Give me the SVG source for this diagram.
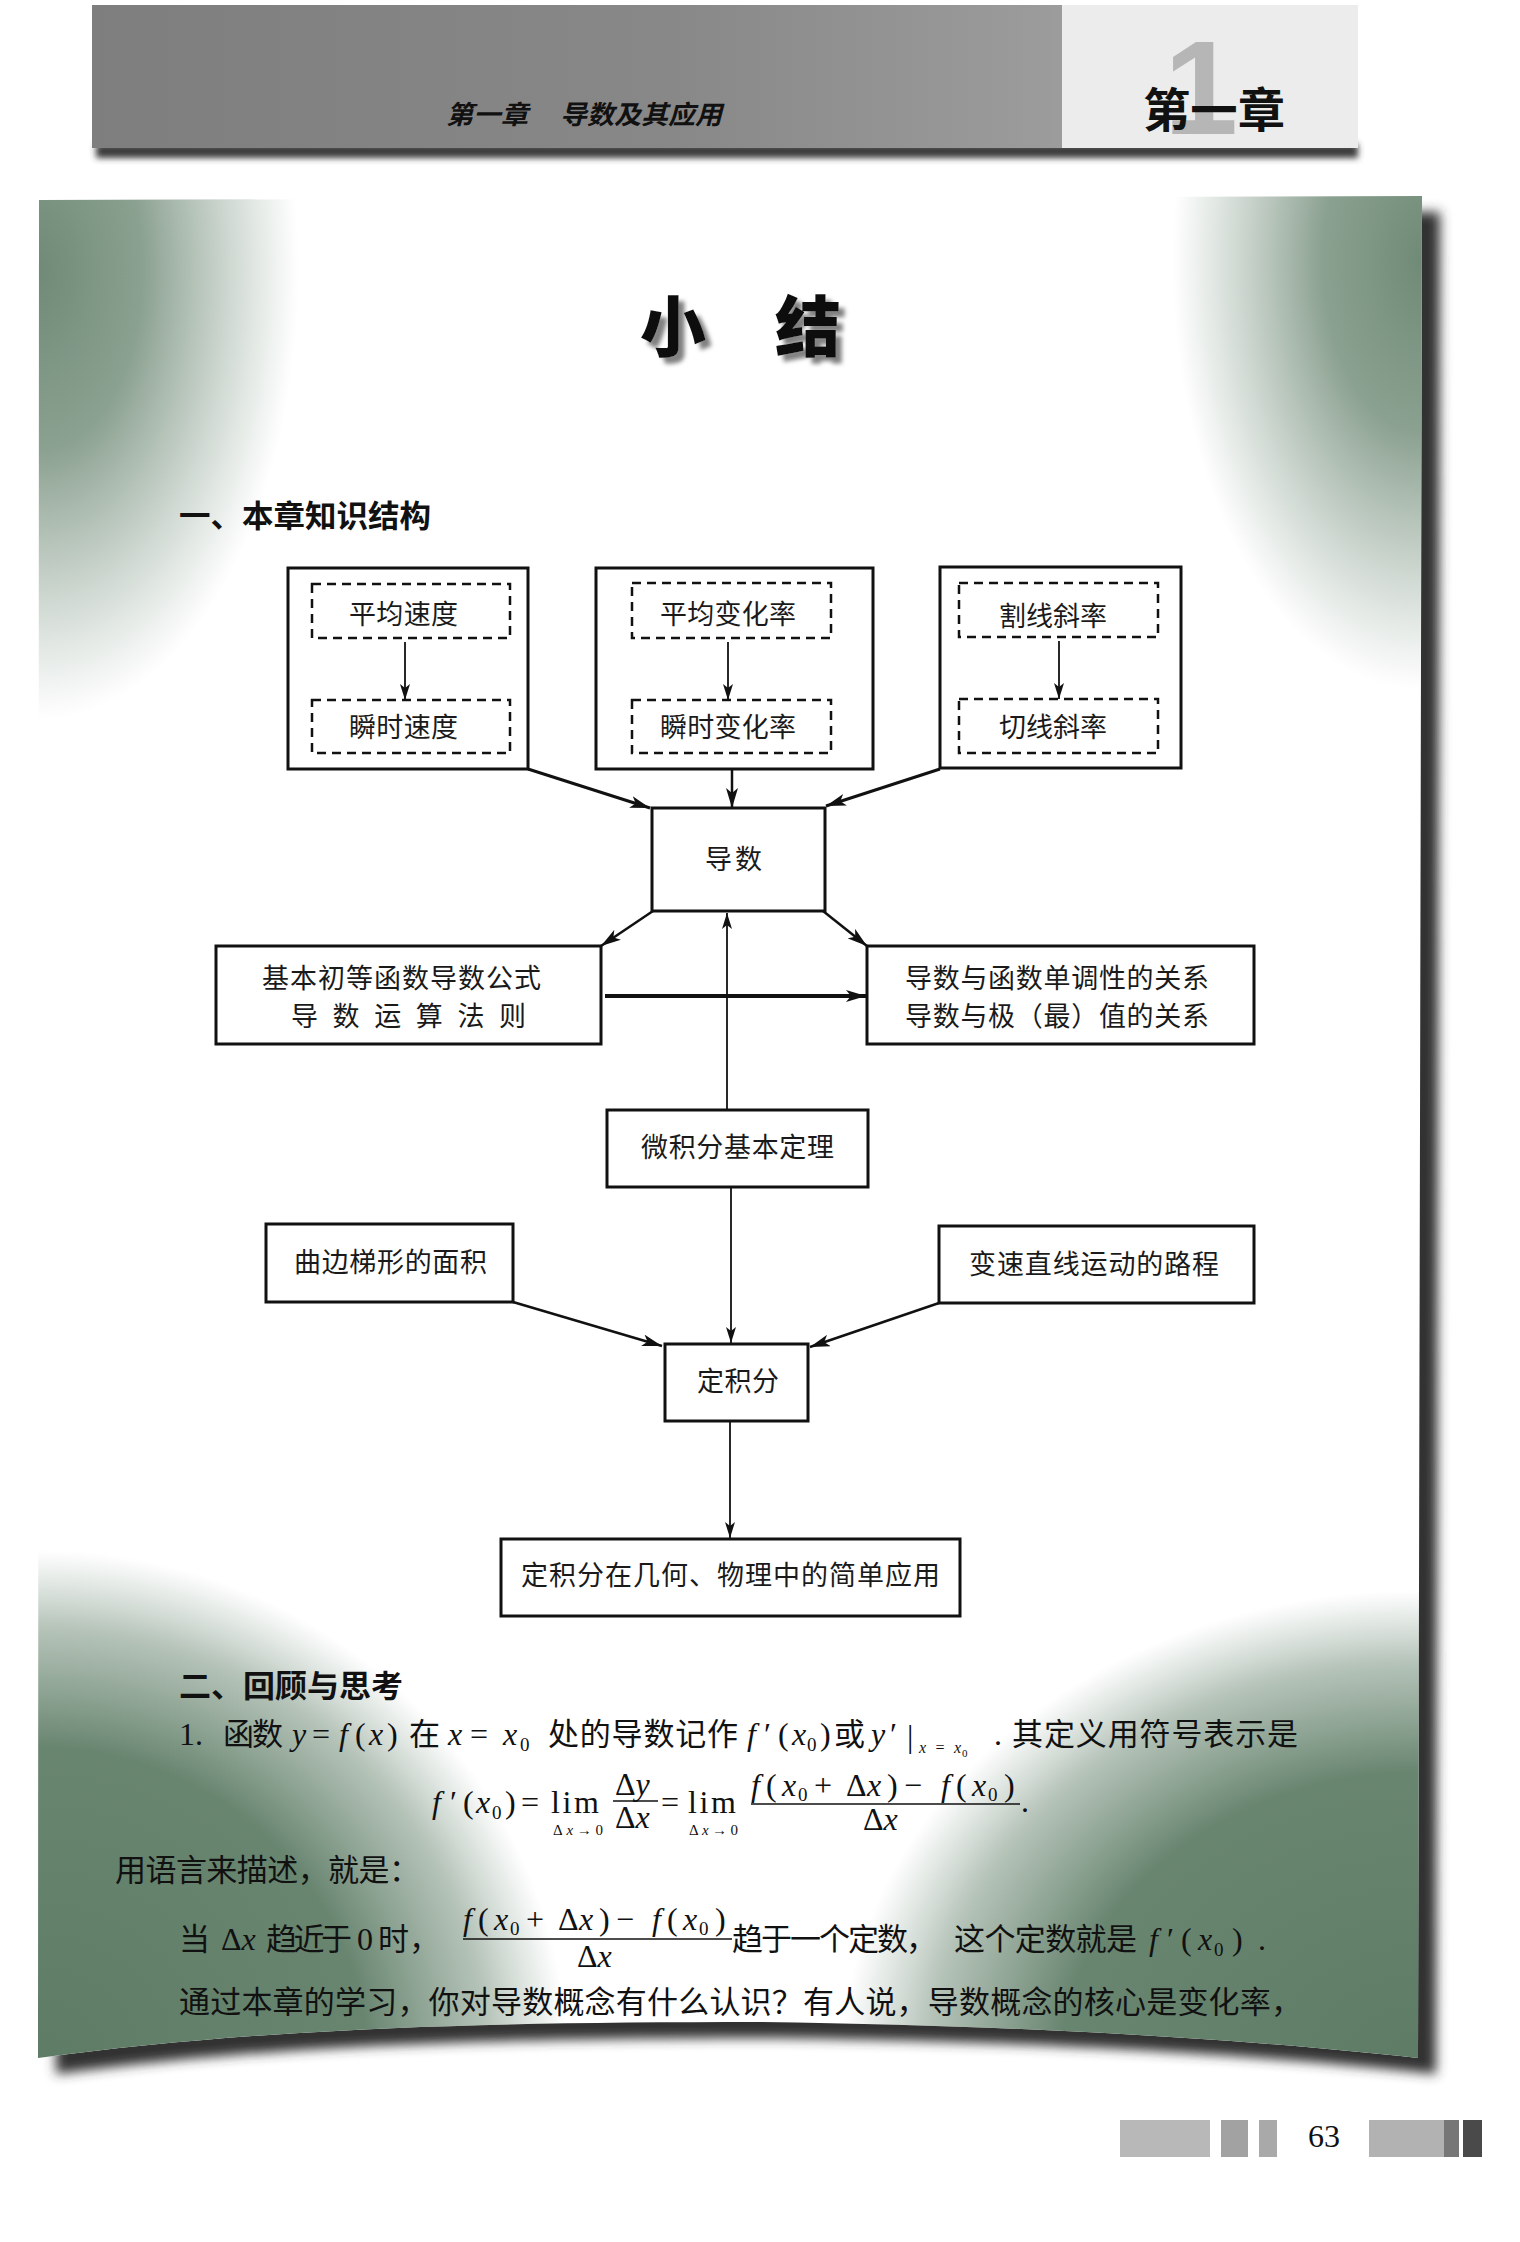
<svg xmlns="http://www.w3.org/2000/svg" width="1520" height="2242" viewBox="0 0 1520 2242">
<style>
.box{fill:#fff;stroke:#111;stroke-width:3}
.dash{fill:none;stroke:#111;stroke-width:2.5;stroke-dasharray:9 6}
.lbl{font-family:"Noto Sans CJK SC","Noto Sans CJK JP",sans-serif;font-size:27px;fill:#1a1a1a}
.cn{font-family:"Noto Sans CJK SC","Noto Sans CJK JP",sans-serif;font-size:31px;fill:#111}
.m{font-family:"Liberation Serif","DejaVu Serif",serif;font-size:32px;fill:#111}
.mi{font-style:italic}
.sub{font-size:19px}
.lim{font-size:15px}
.hd{font-family:"Noto Sans CJK SC","Noto Sans CJK JP",sans-serif;font-weight:700;fill:#111}
.con{fill:none;stroke:#111}
</style>
<defs>
<marker id="a" viewBox="0 0 20 12" refX="20" refY="6" markerWidth="20" markerHeight="12" markerUnits="userSpaceOnUse" orient="auto"><path d="M0,0 L20,6 L0,12 L5,6 z" fill="#111"/></marker>
<marker id="as" viewBox="0 0 16 10" refX="16" refY="5" markerWidth="16" markerHeight="10" markerUnits="userSpaceOnUse" orient="auto"><path d="M0,0 L16,5 L0,10 L4,5 z" fill="#111"/></marker>
<clipPath id="pageClip"><path d="M39,200 L1422,196 L1418,2058 C1250,2040 1050,2026 760,2022 C450,2022 250,2030 38,2058 Z"/></clipPath>
<radialGradient id="rgG"><stop offset="0" stop-color="#63806b" stop-opacity="0.92"/><stop offset="0.4" stop-color="#6a8671" stop-opacity="0.78"/><stop offset="1" stop-color="#7a9482" stop-opacity="0"/></radialGradient>
<radialGradient id="rgB"><stop offset="0" stop-color="#5e7b66" stop-opacity="1"/><stop offset="0.62" stop-color="#62806a" stop-opacity="0.96"/><stop offset="0.85" stop-color="#6c8873" stop-opacity="0.5"/><stop offset="1" stop-color="#7a9482" stop-opacity="0"/></radialGradient>
<linearGradient id="band" x1="0" y1="0" x2="1" y2="0"><stop offset="0" stop-color="#7e7e7e"/><stop offset="0.6" stop-color="#888"/><stop offset="1" stop-color="#9c9c9c"/></linearGradient>
<filter id="blur6" x="-5%" y="-5%" width="110%" height="110%"><feGaussianBlur stdDeviation="6"/></filter>
<filter id="blur3" x="-5%" y="-50%" width="110%" height="200%"><feGaussianBlur stdDeviation="3"/></filter>
<filter id="tshadow" x="-20%" y="-20%" width="150%" height="150%"><feDropShadow dx="6" dy="6" stdDeviation="2" flood-color="#808080" flood-opacity="1"/></filter>
</defs>
<rect width="1520" height="2242" fill="#fff"/>

<!-- header band -->
<g id="header">
<rect x="96" y="144" width="1262" height="14" fill="#3a3a3a" filter="url(#blur3)"/>
<rect x="92" y="5" width="970" height="143" fill="url(#band)"/>
<rect x="1062" y="5" width="296" height="143" fill="#ececec"/>
<text class="hd" x="446" y="124" font-size="26" font-style="italic" textLength="82" lengthAdjust="spacingAndGlyphs">第一章</text>
<text class="hd" x="560" y="124" font-size="26" font-style="italic" textLength="162" lengthAdjust="spacingAndGlyphs">导数及其应用</text>
<text x="1164" y="134" font-family="Liberation Sans, Arial, sans-serif" font-weight="700" font-size="133" fill="#a9a9a9" opacity="0.8">1</text>
<text class="hd" x="1143" y="127" font-size="47" font-weight="900" fill="#222" textLength="142" lengthAdjust="spacingAndGlyphs">第一章</text>
</g>

<!-- page sheet -->
<g id="page">
<path d="M57,216 L1440,212 L1436,2074 C1268,2056 1068,2042 778,2038 C468,2038 268,2046 56,2074 Z" fill="#333" filter="url(#blur6)"/>
<path d="M39,200 L1422,196 L1418,2058 C1250,2040 1050,2026 760,2022 C450,2022 250,2030 38,2058 Z" fill="#fff"/>
<g clip-path="url(#pageClip)">
<ellipse cx="39" cy="270" rx="260" ry="450" fill="url(#rgG)"/>
<ellipse cx="1422" cy="260" rx="250" ry="430" fill="url(#rgG)"/>
<ellipse cx="39" cy="2070" rx="530" ry="520" fill="url(#rgB)"/>
<ellipse cx="1420" cy="2070" rx="580" ry="480" fill="url(#rgB)"/>
</g>
</g>

<!-- title -->
<g id="title" filter="url(#tshadow)">
<text x="640" y="351" font-family="Noto Sans CJK SC, sans-serif" font-weight="900" font-size="66" fill="#111">小</text>
<text x="775" y="351" font-family="Noto Sans CJK SC, sans-serif" font-weight="900" font-size="66" fill="#111">结</text>
</g>
<text id="sec1" class="hd" x="179" y="527" font-size="31" textLength="252" lengthAdjust="spacingAndGlyphs">一、本章知识结构</text>

<!-- connectors -->
<g id="connectors">
<line class="con" x1="405" y1="642" x2="405" y2="700" stroke-width="1.8" marker-end="url(#as)"/>
<line class="con" x1="728" y1="642" x2="728" y2="700" stroke-width="1.8" marker-end="url(#as)"/>
<line class="con" x1="1059" y1="641" x2="1059" y2="699" stroke-width="1.8" marker-end="url(#as)"/>
<line class="con" x1="528" y1="769" x2="650" y2="808" stroke-width="3" marker-end="url(#a)"/>
<line class="con" x1="732" y1="769" x2="732" y2="808" stroke-width="2.5" marker-end="url(#a)"/>
<line class="con" x1="940" y1="769" x2="826" y2="806" stroke-width="3" marker-end="url(#a)"/>
<line class="con" x1="653" y1="911" x2="601" y2="946" stroke-width="2.5" marker-end="url(#a)"/>
<line class="con" x1="823" y1="911" x2="867" y2="946" stroke-width="2.5" marker-end="url(#a)"/>
<line class="con" x1="605" y1="996" x2="866" y2="996" stroke-width="4" marker-end="url(#a)"/>
<line class="con" x1="727" y1="1110" x2="727" y2="913" stroke-width="1.8" marker-end="url(#as)"/>
<line class="con" x1="731" y1="1187" x2="731" y2="1343" stroke-width="1.8" marker-end="url(#as)"/>
<line class="con" x1="513" y1="1302" x2="662" y2="1346" stroke-width="2.5" marker-end="url(#a)"/>
<line class="con" x1="939" y1="1303" x2="810" y2="1347" stroke-width="2.5" marker-end="url(#a)"/>
<line class="con" x1="730" y1="1421" x2="730" y2="1538" stroke-width="1.8" marker-end="url(#as)"/>
</g>

<!-- nodes -->
<g id="g-speed">
<rect class="box" x="288" y="568" width="240" height="201" style="fill:none"/>
<g id="n-avg-speed"><rect class="dash" x="312" y="584" width="198" height="54"/><text class="lbl" x="349" y="624" textLength="109">平均速度</text></g>
<g id="n-inst-speed"><rect class="dash" x="312" y="700" width="198" height="53"/><text class="lbl" x="349" y="737" textLength="109">瞬时速度</text></g>
</g>
<g id="g-rate">
<rect class="box" x="596" y="568" width="277" height="201" style="fill:none"/>
<g id="n-avg-rate"><rect class="dash" x="632" y="583" width="199" height="55"/><text class="lbl" x="660" y="624" textLength="136">平均变化率</text></g>
<g id="n-inst-rate"><rect class="dash" x="632" y="700" width="199" height="53"/><text class="lbl" x="660" y="737" textLength="136">瞬时变化率</text></g>
</g>
<g id="g-slope">
<rect class="box" x="940" y="567" width="241" height="201" style="fill:none"/>
<g id="n-secant"><rect class="dash" x="959" y="583" width="199" height="54"/><text class="lbl" x="999" y="626" textLength="108">割线斜率</text></g>
<g id="n-tangent"><rect class="dash" x="959" y="699" width="199" height="54"/><text class="lbl" x="999" y="737" textLength="108">切线斜率</text></g>
</g>
<g id="n-derivative"><rect class="box" x="652" y="808" width="173" height="103"/><text class="lbl" x="705" y="869" textLength="57">导数</text></g>
<g id="n-formulas"><rect class="box" x="216" y="946" width="385" height="98"/>
<text class="lbl" x="262" y="988" textLength="279">基本初等函数导数公式</text>
<text class="lbl" x="291" y="1026" textLength="235" lengthAdjust="spacing">导 数 运 算 法 则</text></g>
<g id="n-relations"><rect class="box" x="867" y="946" width="387" height="98"/>
<text class="lbl" x="905" y="988" textLength="304">导数与函数单调性的关系</text>
<text class="lbl" x="905" y="1026" textLength="304">导数与极（最）值的关系</text></g>
<g id="n-ftc"><rect class="box" x="607" y="1110" width="261" height="77"/><text class="lbl" x="641" y="1157" textLength="193">微积分基本定理</text></g>
<g id="n-area"><rect class="box" x="266" y="1224" width="247" height="78"/><text class="lbl" x="294" y="1272" textLength="193">曲边梯形的面积</text></g>
<g id="n-distance"><rect class="box" x="939" y="1226" width="315" height="77"/><text class="lbl" x="969" y="1274" textLength="250">变速直线运动的路程</text></g>
<g id="n-integral"><rect class="box" x="665" y="1344" width="143" height="77"/><text class="lbl" x="697" y="1391" textLength="82">定积分</text></g>
<g id="n-apply"><rect class="box" x="501" y="1539" width="459" height="77"/><text class="lbl" x="521" y="1585" textLength="419">定积分在几何、物理中的简单应用</text></g>

<!-- section 2 -->
<g id="sec2">
<text class="hd" x="179" y="1697" font-size="31" textLength="224" lengthAdjust="spacingAndGlyphs">二、回顾与思考</text>
<!-- line 1 -->
<text class="m" x="179" y="1745">1.</text>
<text class="cn" x="223" y="1745" textLength="60">函数</text>
<text class="m mi" x="292" y="1745">y</text><text class="m" x="312" y="1745">=</text><text class="m mi" x="339" y="1745">f</text><text class="m" x="355" y="1745">(</text><text class="m mi" x="369" y="1745">x</text><text class="m" x="387" y="1745">)</text>
<text class="cn" x="409" y="1745">在</text>
<text class="m mi" x="448" y="1745">x</text><text class="m" x="470" y="1745">=</text><text class="m mi" x="503" y="1745">x</text><text class="m sub" x="520" y="1751">0</text>
<text class="cn" x="548" y="1745" textLength="190">处的导数记作</text>
<text class="m mi" x="747" y="1745">f</text><text class="m" x="764" y="1745">′</text><text class="m" x="778" y="1745">(</text><text class="m mi" x="792" y="1745">x</text><text class="m sub" x="807" y="1751">0</text><text class="m" x="820" y="1745">)</text>
<text class="cn" x="834" y="1745">或</text>
<text class="m mi" x="871" y="1745">y</text><text class="m" x="890" y="1745">′</text><text class="m" x="907" y="1747">|</text>
<text class="m mi" x="919" y="1753" style="font-size:16px" textLength="42" lengthAdjust="spacing">x=x</text><text class="m" x="962" y="1757" style="font-size:11px">0</text>
<text class="m" x="994" y="1745">.</text>
<text class="cn" x="1012" y="1745" textLength="286">其定义用符号表示是</text>
<!-- formula -->
<text class="m mi" x="432" y="1813">f</text><text class="m" x="450" y="1813">′</text><text class="m" x="463" y="1813">(</text><text class="m mi" x="476" y="1813">x</text><text class="m sub" x="492" y="1819">0</text><text class="m" x="505" y="1813">)</text><text class="m" x="521" y="1813">=</text>
<text class="m" x="551" y="1813" textLength="48">lim</text>
<text class="m lim" x="553" y="1835" textLength="50" lengthAdjust="spacing">Δ<tspan class="mi">x</tspan>→0</text>
<text class="m" x="615" y="1795">Δ<tspan class="mi">y</tspan></text>
<line x1="613" y1="1801" x2="658" y2="1801" stroke="#111" stroke-width="1.5"/>
<text class="m" x="615" y="1828">Δ<tspan class="mi">x</tspan></text>
<text class="m" x="661" y="1813">=</text>
<text class="m" x="688" y="1813" textLength="48">lim</text>
<text class="m lim" x="689" y="1835" textLength="49" lengthAdjust="spacing">Δ<tspan class="mi">x</tspan>→0</text>
<text class="m mi" x="751" y="1796">f</text><text class="m" x="766" y="1796">(</text><text class="m mi" x="782" y="1796">x</text><text class="m sub" x="798" y="1801">0</text><text class="m" x="814" y="1796">+</text><text class="m" x="846" y="1796">Δ</text><text class="m mi" x="867" y="1796">x</text><text class="m" x="887" y="1796">)</text><text class="m" x="904" y="1796">−</text><text class="m mi" x="941" y="1796">f</text><text class="m" x="956" y="1796">(</text><text class="m mi" x="972" y="1796">x</text><text class="m sub" x="988" y="1801">0</text><text class="m" x="1004" y="1796">)</text>
<line x1="751" y1="1804" x2="1020" y2="1804" stroke="#111" stroke-width="1.5"/>
<text class="m" x="863" y="1830">Δ<tspan class="mi">x</tspan></text>
<text class="m" x="1021" y="1812">.</text>
<!-- description -->
<text class="cn" x="115" y="1881" textLength="305">用语言来描述，就是：</text>
<text class="cn" x="179" y="1950">当</text>
<text class="m" x="221" y="1950">Δ<tspan class="mi">x</tspan></text>
<text class="cn" x="266" y="1950" textLength="86">趋近于</text>
<text class="m" x="357" y="1950">0</text>
<text class="cn" x="378" y="1950" textLength="62">时，</text>
<text class="m mi" x="463" y="1930">f</text><text class="m" x="478" y="1930">(</text><text class="m mi" x="494" y="1930">x</text><text class="m sub" x="510" y="1935">0</text><text class="m" x="526" y="1930">+</text><text class="m" x="558" y="1930">Δ</text><text class="m mi" x="579" y="1930">x</text><text class="m" x="599" y="1930">)</text><text class="m" x="616" y="1930">−</text><text class="m mi" x="652" y="1930">f</text><text class="m" x="667" y="1930">(</text><text class="m mi" x="683" y="1930">x</text><text class="m sub" x="699" y="1935">0</text><text class="m" x="715" y="1930">)</text>
<line x1="463" y1="1939" x2="732" y2="1939" stroke="#111" stroke-width="1.5"/>
<text class="m" x="577" y="1967">Δ<tspan class="mi">x</tspan></text>
<text class="cn" x="732" y="1950" textLength="205">趋于一个定数，</text>
<text class="cn" x="954" y="1950" textLength="183">这个定数就是</text>
<text class="m mi" x="1149" y="1950">f</text><text class="m" x="1167" y="1950">′</text><text class="m" x="1181" y="1950">(</text><text class="m mi" x="1198" y="1950">x</text><text class="m sub" x="1214" y="1956">0</text><text class="m" x="1232" y="1950">)</text><text class="m" x="1258" y="1950">.</text>
<text class="cn" x="179" y="2013" textLength="1123">通过本章的学习，你对导数概念有什么认识？有人说，导数概念的核心是变化率，</text>
</g>

<!-- footer -->
<g id="footer">
<rect x="1120" y="2120" width="90" height="37" fill="#b8b8b8"/>
<rect x="1221" y="2120" width="27" height="37" fill="#a2a2a2"/>
<rect x="1259" y="2120" width="18" height="37" fill="#a9a9a9"/>
<text x="1308" y="2147" font-family="Liberation Serif, serif" font-size="32" fill="#111">63</text>
<rect x="1369" y="2120" width="75" height="37" fill="#b2b2b2"/>
<rect x="1444" y="2120" width="15" height="37" fill="#777"/>
<rect x="1463" y="2120" width="19" height="37" fill="#4a4a4a"/>
</g>
</svg>
